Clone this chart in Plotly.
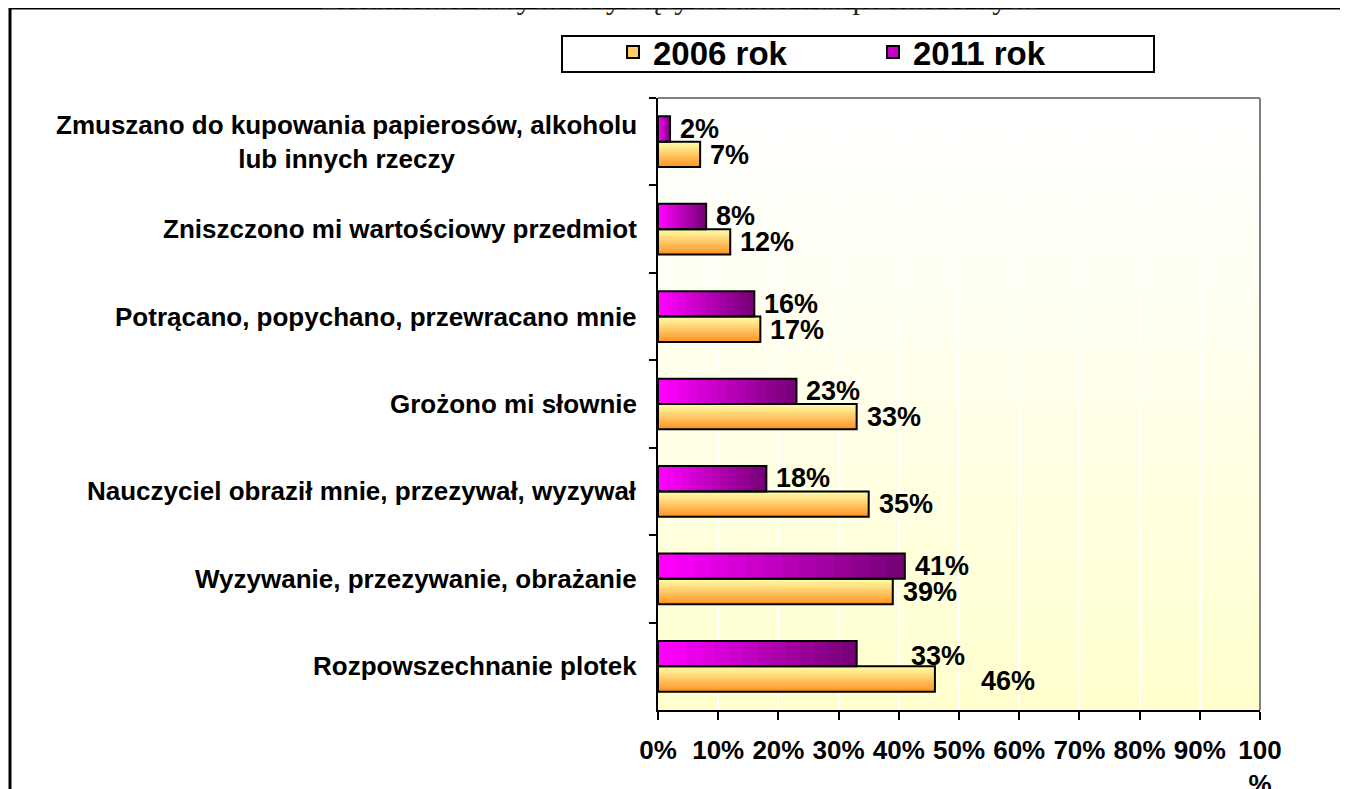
import plotly.graph_objects as go

# data (values in %)
categories = [
    "Zmuszano do kupowania papierosów, alkoholu<br>lub innych rzeczy",
    "Zniszczono mi wartościowy przedmiot",
    "Potrącano, popychano, przewracano mnie",
    "Grożono mi słownie",
    "Nauczyciel obraził mnie, przezywał, wyzywał",
    "Wyzywanie, przezywanie, obrażanie",
    "Rozpowszechnanie plotek",
]
values_2006 = [7, 12, 17, 33, 35, 39, 46]
values_2011 = [2, 8, 16, 23, 18, 41, 33]
series_names = ["2006 rok", "2011 rok"]
x_tickvals = [0, 10, 20, 30, 40, 50, 60, 70, 80, 90, 100]
x_ticktext = ["0%", "10%", "20%", "30%", "40%", "50%", "60%", "70%", "80%", "90%", "100<br>%"]
top_caption = "Zestawienie danych dotyczących zachowań przemocowych"

FONT = "Liberation Sans, Arial, sans-serif"
PAGE_OFF = 8  # default body margin of the html page
W, H = 1348 - PAGE_OFF, 789 - PAGE_OFF
ML, MR, MT, MB = 650, 88, 90, 79
PW, PH = W - ML - MR, H - MT - MB

# Excel pushed the two labels of the last group aside (extra px shift x, y)
label_nudge = {(0, 6): (36, -2), (1, 6): (44, -3)}


# helpers: page pixel -> paper coordinate
def px(x):
    return (x - PAGE_OFF - ML) / PW


def py(y):
    return (H - MB - (y - PAGE_OFF)) / PH


def mix(c0, c1, t):
    return "rgb(%d,%d,%d)" % tuple(round(a + (b - a) * t) for a, b in zip(c0, c1))


bar_w = 0.29
n_slices = 14
fig = go.Figure()

# 2006 bars: vertical yellow -> orange gradient, each slice runs to the bar's bottom edge
for k in range(n_slices):
    fig.add_trace(go.Bar(
        x=values_2006, y=categories, orientation="h",
        width=bar_w * (n_slices - k) / n_slices, offset=k * bar_w / n_slices,
        marker=dict(color=mix((255, 252, 165), (255, 150, 40), k / (n_slices - 1)), line_width=0),
        showlegend=False, hoverinfo="skip",
    ))

# 2011 bars: magenta -> dark purple gradient along the bar, each slice runs to the bar end
for k in range(n_slices):
    fig.add_trace(go.Bar(
        x=[v * (n_slices - k) / n_slices for v in values_2011],
        base=[v * k / n_slices for v in values_2011],
        y=categories, orientation="h",
        width=bar_w, offset=-bar_w,
        marker=dict(color=mix((255, 0, 255), (120, 0, 120), k / (n_slices - 1)), line_width=0),
        showlegend=False, hoverinfo="skip",
    ))

# black outlines on top
for vals, off in [(values_2006, 0), (values_2011, -bar_w)]:
    fig.add_trace(go.Bar(
        x=vals, y=categories, orientation="h", width=bar_w, offset=off,
        marker=dict(color="rgba(0,0,0,0)", line=dict(color="black", width=2)),
        showlegend=False, hovertemplate="%{y}: %{x}%<extra></extra>",
    ))

# legend-only entries
for name, col in zip(series_names, ["rgb(255,205,100)", "rgb(200,0,200)"]):
    fig.add_trace(go.Bar(
        x=[None], y=[None], orientation="h", name=name,
        marker=dict(color=col, line=dict(color="black", width=2)),
    ))

# data labels
for s, (vals, shift) in enumerate([(values_2006, -13), (values_2011, 13)]):
    for i, (cat, v) in enumerate(zip(categories, vals)):
        dx, dy = label_nudge.get((s, i), (0, 0))
        fig.add_annotation(x=v, y=cat, text=f"{v}%", showarrow=False,
                           xanchor="left", xshift=8 + dx, yshift=shift + dy,
                           font=dict(family=FONT, size=27, color="black", weight="bold"))

# category labels
for cat in categories:
    fig.add_annotation(xref="paper", x=0, y=cat, text=cat, showarrow=False,
                       xanchor="right", xshift=-19, align="center",
                       font=dict(family=FONT, size=26, color="black", weight="bold"))

# clipped caption at top of page
fig.add_annotation(xref="paper", yref="paper", x=px(678), y=py(17), text=top_caption,
                   showarrow=False, xanchor="center", yanchor="bottom",
                   font=dict(family="Liberation Serif, Times New Roman, serif", size=30, color="#222"))

# plot area gradient (white top -> pale yellow bottom)
n_grad = 40
for i in range(n_grad):
    t = (i + 0.5) / n_grad
    fig.add_shape(type="rect", xref="x domain", yref="y domain", x0=0, x1=1,
                  y0=1 - (i + 1) / n_grad, y1=1 - i / n_grad + 0.002,
                  fillcolor=mix((255, 255, 255), (255, 255, 205), t ** 1.2),
                  line_width=0, layer="below")

# grey top / right border of the plot area
fig.add_shape(type="line", xref="x domain", yref="y domain", x0=0, x1=1, y0=1, y1=1,
              line=dict(color="#808080", width=2))
fig.add_shape(type="line", xref="x domain", yref="y domain", x0=1, x1=1, y0=0, y1=1,
              line=dict(color="#808080", width=2))

# legend box
fig.add_shape(type="rect", xref="paper", yref="paper", x0=px(562), x1=px(1154), y0=py(72), y1=py(36),
              line=dict(color="black", width=2), fillcolor="white")

# outer frame of the page: only top and left edges are on screen
fig.add_shape(type="line", xref="paper", yref="paper", x0=px(10), x1=px(1500), y0=py(8), y1=py(8),
              line=dict(color="black", width=3))
fig.add_shape(type="line", xref="paper", yref="paper", x0=px(10), x1=px(10), y0=py(8), y1=py(900),
              line=dict(color="black", width=3))

fig.update_layout(
    width=W, height=H,
    margin=dict(l=ML, r=MR, t=MT, b=MB, autoexpand=False),
    barmode="overlay",
    paper_bgcolor="white", plot_bgcolor="white",
    font=dict(family=FONT, color="black"),
    legend=dict(orientation="h", x=px(613), y=py(52), xanchor="left", yanchor="middle",
                entrywidth=215, bgcolor="rgba(0,0,0,0)",
                font=dict(family=FONT, size=33, color="black", weight="bold")),
    xaxis=dict(range=[0, 100], tickvals=x_tickvals, ticktext=x_ticktext, automargin=False,
               showgrid=True, gridcolor="white", gridwidth=2, zeroline=False,
               showline=True, linecolor="black", linewidth=2,
               ticks="outside", ticklen=8, tickwidth=2, tickcolor="black",
               ticklabelstandoff=8,
               tickfont=dict(family=FONT, size=26, color="black", weight="bold")),
    yaxis=dict(autorange="reversed", showticklabels=False, tickson="boundaries", automargin=False,
               showgrid=False, zeroline=False,
               showline=True, linecolor="black", linewidth=2,
               ticks="outside", ticklen=7, tickwidth=2, tickcolor="black"),
)

fig.write_html("out.html")
